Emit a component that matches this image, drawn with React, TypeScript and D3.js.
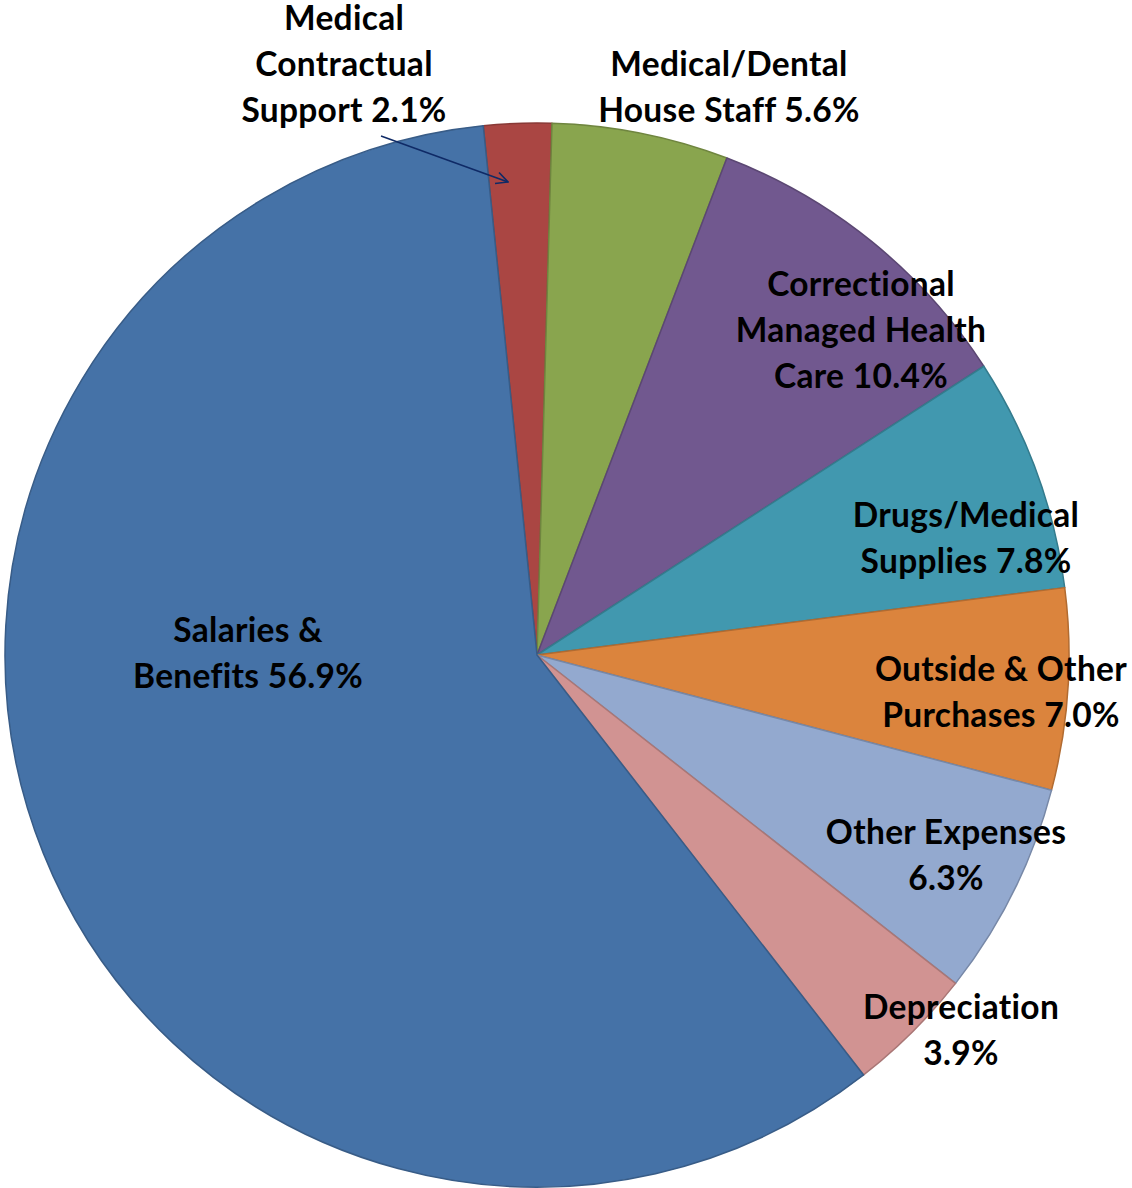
import React from "react";
import * as d3 from "d3";

// Category names, in clockwise order from the slice just left of 12 o'clock
const categories = [
  "Medical Contractual Support",
  "Medical/Dental House Staff",
  "Correctional Managed Health Care",
  "Drugs/Medical Supplies",
  "Outside & Other Purchases",
  "Other Expenses",
  "Depreciation",
  "Salaries & Benefits",
];

// Percentages printed on the labels
const labelPercents = [2.1, 5.6, 10.4, 7.8, 7.0, 6.3, 3.9, 56.9];

// Slice shares as drawn in the picture (measured angular sizes, %)
const sliceShares = [2.06, 5.36, 10.06, 7.11, 6.11, 6.5, 3.89, 58.91];

// Label line breaks (text before the percentage)
const labelLines = [
  ["Medical", "Contractual", "Support"],
  ["Medical/Dental", "House Staff"],
  ["Correctional", "Managed Health", "Care"],
  ["Drugs/Medical", "Supplies"],
  ["Outside & Other", "Purchases"],
  ["Other Expenses", ""],
  ["Depreciation", ""],
  ["Salaries &", "Benefits"],
];

const colors = [
  "#AA4643",
  "#89A54E",
  "#71588F",
  "#4198AF",
  "#DB843D",
  "#93A9CF",
  "#D19392",
  "#4572A7",
];

// Label anchors (center x, center y of first line)
const labelAnchors: [number, number][] = [
  [344, 17],
  [729, 63],
  [861, 283],
  [966, 514],
  [1001, 668],
  [946, 831],
  [961, 1006],
  [248, 629],
];

const W = 1132;
const H = 1188;
const cx = 537;
const cy = 655;
const R = 532;
const startDeg = -5.8;
const lineH = 45.8;

export default function App() {
  const pie = d3
    .pie<number>()
    .sort(null)
    .value((d) => d)
    .startAngle((startDeg * Math.PI) / 180)
    .endAngle(((startDeg + 360) * Math.PI) / 180);
  const arcs = pie(sliceShares);
  const arc = d3.arc<d3.PieArcDatum<number>>().innerRadius(0).outerRadius(R);

  const labels = labelLines.map((lines, i) => {
    const pct = labelPercents[i].toFixed(1) + "%";
    const out = lines.slice();
    const last = out.length - 1;
    out[last] = out[last] ? out[last] + " " + pct : pct;
    return out;
  });

  return (
    <div style={{ position: "absolute", left: 0, top: 0 }}>
      <svg width={W} height={H} style={{ display: "block", background: "#fff" }}>
        <defs>
          <marker
            id="arrowOpen"
            viewBox="0 0 12 12"
            refX="11"
            refY="6"
            markerWidth="14"
            markerHeight="14"
            markerUnits="userSpaceOnUse"
            orient="auto"
          >
            <path d="M1,1 L11,6 L1,11" fill="none" stroke="#0F2A66" strokeWidth="1.4" />
          </marker>
        </defs>
        <g transform={`translate(${cx},${cy})`}>
          {arcs.map((a, i) => (
            <path
              key={categories[i]}
              d={arc(a) || ""}
              fill={colors[i]}
              stroke={d3.color(colors[i])!.darker(0.6).toString()}
              strokeWidth={1.5}
              strokeLinejoin="round"
            />
          ))}
        </g>
        <line
          x1={381}
          y1={136}
          x2={508}
          y2={182}
          stroke="#0F2A66"
          strokeWidth={1.6}
          markerEnd="url(#arrowOpen)"
        />
        {labels.map((lines, i) => (
          <text
            key={"l" + i}
            textAnchor="middle"
            fontFamily="Lato, 'Open Sans', sans-serif"
            fontWeight="bold"
            fontSize={33.5}
            letterSpacing={0.3}
            fill="#000"
          >
            {lines.map((t, j) => (
              <tspan
                key={j}
                x={labelAnchors[i][0]}
                y={labelAnchors[i][1] + j * lineH}
                dominantBaseline="central"
              >
                {t}
              </tspan>
            ))}
          </text>
        ))}
      </svg>
    </div>
  );
}
